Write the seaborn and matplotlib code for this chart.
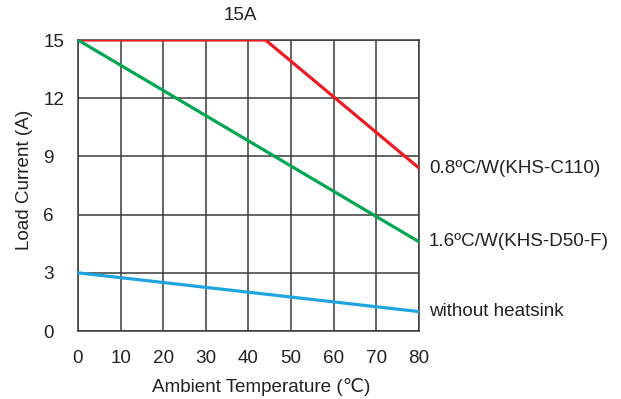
import matplotlib
matplotlib.use("Agg")
import matplotlib.pyplot as plt
import seaborn as sns
import pandas as pd

sns.set_theme(style="white")
plt.rcParams['font.family'] = ['Liberation Sans', 'DejaVu Sans']

# Data
red_temp = [0, 44, 80]
red_current = [15, 15, 8.4]
green_temp = [0, 80]
green_current = [15, 4.6]
blue_temp = [0, 80]
blue_current = [3, 1.0]
series_labels = ["0.8ºC/W(KHS-C110)", "1.6ºC/W(KHS-D50-F)", "without heatsink"]
x_ticks = [0, 10, 20, 30, 40, 50, 60, 70, 80]
y_ticks = [0, 3, 6, 9, 12, 15]

FS = 13.6
fig = plt.figure(figsize=(6.21, 3.99), dpi=100)
ax = fig.add_axes([0.1256, 0.1704, 0.5491, 0.7293])

colors = ["#ed1c24", "#00a651", "#1ea4e0"]
series = [(red_temp, red_current), (green_temp, green_current), (blue_temp, blue_current)]
for (t, c), col, lab in zip(series, colors, series_labels):
    df = pd.DataFrame({"t": t, "c": c})
    sns.lineplot(data=df, x="t", y="c", ax=ax, color=col, linewidth=2.3, zorder=3)
    ax.text(82.3, c[-1], lab, fontsize=FS, va="center", ha="left", color="#222222")

ax.set_xlim(0, 80)
ax.set_ylim(0, 15)
ax.set_xticks(x_ticks)
ax.set_yticks(y_ticks)
ax.grid(True, color="#3a3a3a", linewidth=1.1)
ax.set_axisbelow(True)
for s in ax.spines.values():
    s.set_visible(True)
    s.set_color("#3a3a3a")
    s.set_linewidth(1.1)
ax.tick_params(axis="both", length=0, labelsize=FS, labelcolor="#222222")
ax.tick_params(axis="x", pad=14)
ax.tick_params(axis="y", pad=25)
for lbl in ax.get_yticklabels():
    lbl.set_horizontalalignment("left")
ax.set_xlabel("Ambient Temperature (℃)", fontsize=FS, color="#222222")
ax.xaxis.set_label_coords(0.537, -0.16)
ax.set_ylabel("Load Current (A)", fontsize=FS, color="#222222")
ax.yaxis.set_label_coords(-0.132, 0.52)
fig.text(240 / 621, 1 - 16 / 399, "15A", fontsize=FS, ha="center", va="center", color="#222222")

fig.savefig("out.png", dpi=100)
